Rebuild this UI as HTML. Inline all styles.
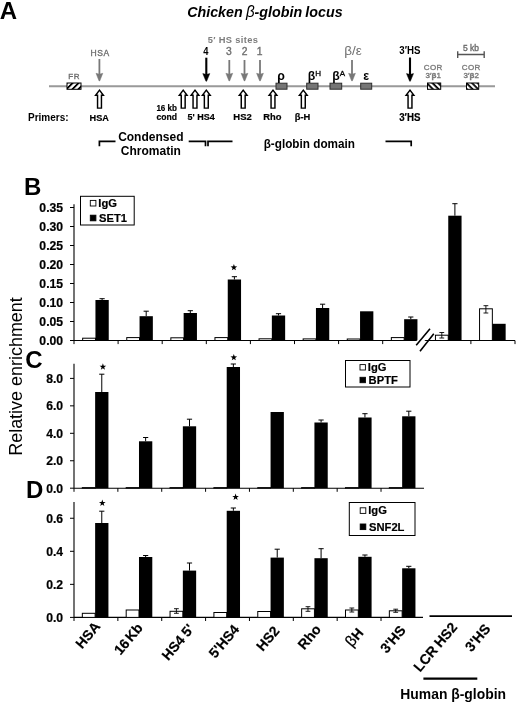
<!DOCTYPE html>
<html><head><meta charset="utf-8"><title>Figure</title>
<style>
html,body{margin:0;padding:0;background:#fff;}
body{width:520px;height:706px;overflow:hidden;font-family:"Liberation Sans", sans-serif;}
svg{display:block;font-family:"Liberation Sans", sans-serif;}
svg text{font-family:"Liberation Sans", sans-serif;}
</style></head><body>
<svg width="520" height="706" viewBox="0 0 520 706">
<defs><filter id="soft" x="0" y="0" width="520" height="706" filterUnits="userSpaceOnUse"><feGaussianBlur stdDeviation="0.35"/></filter></defs>
<rect width="520" height="706" fill="#fff"/>
<g filter="url(#soft)">
<rect width="520" height="706" fill="#fff"/>
<text x="-0.3" y="19.3" font-size="24" font-weight="bold" fill="#000" text-anchor="start"  >A</text>
<text x="187.2" y="16.5" font-size="15" font-weight="bold" fill="#000" text-anchor="start" font-style="italic" textLength="155.4" lengthAdjust="spacingAndGlyphs" word-spacing="-0.8">Chicken <tspan font-weight="normal" font-size="16">β</tspan>-globin locus</text>
<line x1="49" y1="86.3" x2="495" y2="86.3" stroke="#999" stroke-width="2"/>
<defs>
<pattern id="hatchF" width="4.2" height="4.2" patternUnits="userSpaceOnUse" patternTransform="rotate(-45)"><rect width="4.2" height="4.2" fill="#fff"/><rect width="4.2" height="1.8" fill="#000"/></pattern>
<pattern id="hatchB" width="4" height="4" patternUnits="userSpaceOnUse" patternTransform="rotate(45)"><rect width="4" height="4" fill="#fff"/><rect width="4" height="1.8" fill="#000"/></pattern>
</defs>
<rect x="67" y="83" width="14" height="6.3" fill="url(#hatchF)" stroke="#000" stroke-width="1"/>
<rect x="427.5" y="83" width="13.199999999999989" height="6.3" fill="url(#hatchB)" stroke="#000" stroke-width="1"/>
<rect x="466.5" y="83" width="12.199999999999989" height="6.3" fill="url(#hatchB)" stroke="#000" stroke-width="1"/>
<rect x="276" y="83.2" width="11" height="6" fill="#757575" stroke="#2e2e2e" stroke-width="1"/>
<rect x="306.7" y="83.2" width="11.300000000000011" height="6" fill="#757575" stroke="#2e2e2e" stroke-width="1"/>
<rect x="330" y="83.2" width="11.699999999999989" height="6" fill="#757575" stroke="#2e2e2e" stroke-width="1"/>
<rect x="360.7" y="83.2" width="11.0" height="6" fill="#757575" stroke="#2e2e2e" stroke-width="1"/>
<line x1="99.4" y1="59" x2="99.4" y2="75.3" stroke="#787878" stroke-width="1.8"/>
<path d="M96.0 73.3 L99.4 74.2 L102.80000000000001 73.3 L99.75 80.9 L99.05000000000001 80.9 Z" fill="#787878" stroke="#787878" stroke-width="0.5" stroke-linejoin="round"/>
<line x1="206.3" y1="57.7" x2="206.3" y2="75.6" stroke="#000" stroke-width="2.1"/>
<path d="M202.8 73.6 L206.3 74.5 L209.8 73.6 L206.65 81.2 L205.95000000000002 81.2 Z" fill="#000" stroke="#000" stroke-width="0.5" stroke-linejoin="round"/>
<line x1="229.3" y1="60" x2="229.3" y2="75.3" stroke="#787878" stroke-width="1.8"/>
<path d="M225.9 73.3 L229.3 74.2 L232.70000000000002 73.3 L229.65 80.9 L228.95000000000002 80.9 Z" fill="#787878" stroke="#787878" stroke-width="0.5" stroke-linejoin="round"/>
<line x1="244.5" y1="60" x2="244.5" y2="75.3" stroke="#787878" stroke-width="1.8"/>
<path d="M241.1 73.3 L244.5 74.2 L247.9 73.3 L244.85 80.9 L244.15 80.9 Z" fill="#787878" stroke="#787878" stroke-width="0.5" stroke-linejoin="round"/>
<line x1="260" y1="60" x2="260" y2="75.3" stroke="#787878" stroke-width="1.8"/>
<path d="M256.6 73.3 L260 74.2 L263.4 73.3 L260.35 80.9 L259.65 80.9 Z" fill="#787878" stroke="#787878" stroke-width="0.5" stroke-linejoin="round"/>
<line x1="352" y1="60" x2="352" y2="75.3" stroke="#787878" stroke-width="1.8"/>
<path d="M348.6 73.3 L352 74.2 L355.4 73.3 L352.35 80.9 L351.65 80.9 Z" fill="#787878" stroke="#787878" stroke-width="0.5" stroke-linejoin="round"/>
<line x1="410" y1="57.5" x2="410" y2="75.6" stroke="#000" stroke-width="2.1"/>
<path d="M406.5 73.6 L410 74.5 L413.5 73.6 L410.35 81.2 L409.65 81.2 Z" fill="#000" stroke="#000" stroke-width="0.5" stroke-linejoin="round"/>
<path d="M99.5 90.1 L103.4 95.3 L101.45 95.3 L101.45 108.1 L97.55 108.1 L97.55 95.3 L95.6 95.3 Z" fill="#fff" stroke="#000" stroke-width="1.45" stroke-linejoin="miter"/>
<path d="M183.2 90.1 L187.1 95.3 L185.14999999999998 95.3 L185.14999999999998 108.1 L181.25 108.1 L181.25 95.3 L179.29999999999998 95.3 Z" fill="#fff" stroke="#000" stroke-width="1.45" stroke-linejoin="miter"/>
<path d="M195 90.1 L198.9 95.3 L196.95 95.3 L196.95 108.1 L193.05 108.1 L193.05 95.3 L191.1 95.3 Z" fill="#fff" stroke="#000" stroke-width="1.45" stroke-linejoin="miter"/>
<path d="M206.3 90.1 L210.20000000000002 95.3 L208.25 95.3 L208.25 108.1 L204.35000000000002 108.1 L204.35000000000002 95.3 L202.4 95.3 Z" fill="#fff" stroke="#000" stroke-width="1.45" stroke-linejoin="miter"/>
<path d="M243.2 90.1 L247.1 95.3 L245.14999999999998 95.3 L245.14999999999998 108.1 L241.25 108.1 L241.25 95.3 L239.29999999999998 95.3 Z" fill="#fff" stroke="#000" stroke-width="1.45" stroke-linejoin="miter"/>
<path d="M273 90.1 L276.9 95.3 L274.95 95.3 L274.95 108.1 L271.05 108.1 L271.05 95.3 L269.1 95.3 Z" fill="#fff" stroke="#000" stroke-width="1.45" stroke-linejoin="miter"/>
<path d="M303.3 90.1 L307.2 95.3 L305.25 95.3 L305.25 108.1 L301.35 108.1 L301.35 95.3 L299.40000000000003 95.3 Z" fill="#fff" stroke="#000" stroke-width="1.45" stroke-linejoin="miter"/>
<path d="M410 90.1 L413.9 95.3 L411.95 95.3 L411.95 108.1 L408.05 108.1 L408.05 95.3 L406.1 95.3 Z" fill="#fff" stroke="#000" stroke-width="1.45" stroke-linejoin="miter"/>
<text x="90.5" y="55.6" font-size="8.5" font-weight="normal" fill="#6e6e6e" text-anchor="start"  letter-spacing="0.6" stroke="#6e6e6e" stroke-width="0.35">HSA</text>
<text x="68.3" y="79.3" font-size="8" font-weight="normal" fill="#6e6e6e" text-anchor="start"  letter-spacing="0.5" stroke="#6e6e6e" stroke-width="0.35">FR</text>
<text x="207.8" y="42.5" font-size="9.3" font-weight="bold" fill="#7c7c7c" text-anchor="start"  textLength="50" lengthAdjust="spacing">5′ HS sites</text>
<text x="205.8" y="54.6" font-size="10.5" font-weight="bold" fill="#000" text-anchor="middle"  textLength="5.2" lengthAdjust="spacingAndGlyphs">4</text>
<text x="228.9" y="54.6" font-size="10.3" font-weight="normal" fill="#6e6e6e" text-anchor="middle"   stroke="#6e6e6e" stroke-width="0.35">3</text>
<text x="244.6" y="54.6" font-size="10.3" font-weight="normal" fill="#6e6e6e" text-anchor="middle"   stroke="#6e6e6e" stroke-width="0.35">2</text>
<text x="259.7" y="54.6" font-size="10.3" font-weight="normal" fill="#6e6e6e" text-anchor="middle"   stroke="#6e6e6e" stroke-width="0.35">1</text>
<text x="344.2" y="55.4" font-size="12" font-weight="normal" fill="#707070" text-anchor="start"  textLength="17.6" lengthAdjust="spacingAndGlyphs">β/ε</text>
<text x="399.3" y="54.3" font-size="10.5" font-weight="bold" fill="#000" text-anchor="start"  textLength="21.2" lengthAdjust="spacingAndGlyphs">3′HS</text>
<text x="433.2" y="70.2" font-size="8" font-weight="normal" fill="#7a7a7a" text-anchor="middle"  letter-spacing="0.3" stroke="#7a7a7a" stroke-width="0.35">COR</text>
<text x="433.2" y="78.4" font-size="8" font-weight="normal" fill="#7a7a7a" text-anchor="middle"   stroke="#7a7a7a" stroke-width="0.35">3′<tspan font-weight="bold">β</tspan>1</text>
<text x="471.2" y="70.2" font-size="8" font-weight="normal" fill="#7a7a7a" text-anchor="middle"  letter-spacing="0.3" stroke="#7a7a7a" stroke-width="0.35">COR</text>
<text x="471.2" y="78.4" font-size="8" font-weight="normal" fill="#7a7a7a" text-anchor="middle"   stroke="#7a7a7a" stroke-width="0.35">3′<tspan font-weight="bold">β</tspan>2</text>
<text x="471" y="51.3" font-size="8.5" font-weight="normal" fill="#6a6a6a" text-anchor="middle"   stroke="#6a6a6a" stroke-width="0.35">5 kb</text>
<path d="M457.7 51.3 V58 M484.2 51.3 V58 M457.7 54.5 H484.2" stroke="#555" stroke-width="1.4" fill="none"/>
<text x="277.2" y="79.6" font-size="12.3" font-weight="bold" fill="#000" text-anchor="start"  >ρ</text>
<text x="307.7" y="80.4" font-size="12.3" font-weight="bold" fill="#000" text-anchor="start"  >β<tspan font-size="8" dy="-4.3" font-weight="normal" stroke="#000" stroke-width="0.3">H</tspan></text>
<text x="332.2" y="80.4" font-size="12.3" font-weight="bold" fill="#000" text-anchor="start"  >β<tspan font-size="8" dy="-4.3" font-weight="normal" stroke="#000" stroke-width="0.3">A</tspan></text>
<text x="363.3" y="80" font-size="12.3" font-weight="bold" fill="#000" text-anchor="start"  >ε</text>
<text x="28" y="120.6" font-size="10" font-weight="bold" fill="#000" text-anchor="start"  >Primers:</text>
<text x="89.6" y="120.6" font-size="9.8" font-weight="bold" fill="#000" text-anchor="start"  textLength="19.3" lengthAdjust="spacingAndGlyphs" stroke="#000" stroke-width="0.2">HSA</text>
<text x="156.4" y="111.4" font-size="9.2" font-weight="bold" fill="#000" text-anchor="start"  textLength="20.6" lengthAdjust="spacingAndGlyphs" stroke="#000" stroke-width="0.2">16 kb</text>
<text x="156.4" y="120.1" font-size="9.2" font-weight="bold" fill="#000" text-anchor="start"  textLength="20.6" lengthAdjust="spacingAndGlyphs" stroke="#000" stroke-width="0.2">cond</text>
<text x="187.6" y="120.4" font-size="9.8" font-weight="bold" fill="#000" text-anchor="start"  textLength="27.2" lengthAdjust="spacingAndGlyphs" stroke="#000" stroke-width="0.2">5' HS4</text>
<text x="233.3" y="120.4" font-size="9.8" font-weight="bold" fill="#000" text-anchor="start"  textLength="18.4" lengthAdjust="spacingAndGlyphs" stroke="#000" stroke-width="0.2">HS2</text>
<text x="263.3" y="120.4" font-size="9.8" font-weight="bold" fill="#000" text-anchor="start"  textLength="18.2" lengthAdjust="spacingAndGlyphs" stroke="#000" stroke-width="0.2">Rho</text>
<text x="294.7" y="120.4" font-size="9.8" font-weight="bold" fill="#000" text-anchor="start"  textLength="15.6" lengthAdjust="spacingAndGlyphs" stroke="#000" stroke-width="0.2">β-H</text>
<text x="399.2" y="120.6" font-size="10" font-weight="bold" fill="#000" text-anchor="start"  textLength="21.2" lengthAdjust="spacingAndGlyphs" stroke="#000" stroke-width="0.2">3′HS</text>
<path d="M99.4 146.2 V141.3 H115.5" stroke="#000" stroke-width="1.7" fill="none"/>
<path d="M188.7 141.3 H205.5 V146.2 M208 146.2 V141.3 H232.5" stroke="#000" stroke-width="1.7" fill="none"/>
<path d="M385.5 141.3 H411.2 V146.2" stroke="#000" stroke-width="1.7" fill="none"/>
<text x="150.8" y="140.6" font-size="12" font-weight="bold" fill="#000" text-anchor="middle"  >Condensed</text>
<text x="150.8" y="155" font-size="12" font-weight="bold" fill="#000" text-anchor="middle"  >Chromatin</text>
<text x="263.7" y="147.6" font-size="12" font-weight="bold" fill="#000" text-anchor="start"  textLength="91.3" lengthAdjust="spacingAndGlyphs">β-globin domain</text>
<path d="M74.0 204.3 V340.5 M73.7 340.5 H515" stroke="#000" stroke-width="1.1" fill="none"/>
<line x1="70.0" y1="340.5" x2="74.0" y2="340.5" stroke="#000" stroke-width="1"/>
<text x="63.1" y="344.85" font-size="12.2" font-weight="bold" fill="#000" text-anchor="end"  stroke="#000" stroke-width="0.2">0.00</text>
<line x1="70.0" y1="321.5" x2="74.0" y2="321.5" stroke="#000" stroke-width="1"/>
<text x="63.1" y="325.85" font-size="12.2" font-weight="bold" fill="#000" text-anchor="end"  stroke="#000" stroke-width="0.2">0.05</text>
<line x1="70.0" y1="302.5" x2="74.0" y2="302.5" stroke="#000" stroke-width="1"/>
<text x="63.1" y="306.85" font-size="12.2" font-weight="bold" fill="#000" text-anchor="end"  stroke="#000" stroke-width="0.2">0.10</text>
<line x1="70.0" y1="283.5" x2="74.0" y2="283.5" stroke="#000" stroke-width="1"/>
<text x="63.1" y="287.85" font-size="12.2" font-weight="bold" fill="#000" text-anchor="end"  stroke="#000" stroke-width="0.2">0.15</text>
<line x1="70.0" y1="264.5" x2="74.0" y2="264.5" stroke="#000" stroke-width="1"/>
<text x="63.1" y="268.85" font-size="12.2" font-weight="bold" fill="#000" text-anchor="end"  stroke="#000" stroke-width="0.2">0.20</text>
<line x1="70.0" y1="245.5" x2="74.0" y2="245.5" stroke="#000" stroke-width="1"/>
<text x="63.1" y="249.85" font-size="12.2" font-weight="bold" fill="#000" text-anchor="end"  stroke="#000" stroke-width="0.2">0.25</text>
<line x1="70.0" y1="226.5" x2="74.0" y2="226.5" stroke="#000" stroke-width="1"/>
<text x="63.1" y="230.85" font-size="12.2" font-weight="bold" fill="#000" text-anchor="end"  stroke="#000" stroke-width="0.2">0.30</text>
<line x1="70.0" y1="207.5" x2="74.0" y2="207.5" stroke="#000" stroke-width="1"/>
<text x="63.1" y="211.85" font-size="12.2" font-weight="bold" fill="#000" text-anchor="end"  stroke="#000" stroke-width="0.2">0.35</text>
<line x1="74.0" y1="340.5" x2="74.0" y2="344.1" stroke="#000" stroke-width="1"/>
<line x1="118.1" y1="340.5" x2="118.1" y2="344.1" stroke="#000" stroke-width="1"/>
<line x1="162.2" y1="340.5" x2="162.2" y2="344.1" stroke="#000" stroke-width="1"/>
<line x1="206.3" y1="340.5" x2="206.3" y2="344.1" stroke="#000" stroke-width="1"/>
<line x1="250.4" y1="340.5" x2="250.4" y2="344.1" stroke="#000" stroke-width="1"/>
<line x1="294.5" y1="340.5" x2="294.5" y2="344.1" stroke="#000" stroke-width="1"/>
<line x1="338.6" y1="340.5" x2="338.6" y2="344.1" stroke="#000" stroke-width="1"/>
<line x1="382.7" y1="340.5" x2="382.7" y2="344.1" stroke="#000" stroke-width="1"/>
<line x1="470.90000000000003" y1="340.5" x2="470.90000000000003" y2="344.1" stroke="#000" stroke-width="1"/>
<line x1="515.0" y1="340.5" x2="515.0" y2="344.1" stroke="#000" stroke-width="1"/>
<rect x="82.65" y="338.2" width="12.8" height="2.3000000000000114" fill="#fff" stroke="#000" stroke-width="1"/>
<rect x="95.45" y="300" width="13.3" height="40.5" fill="#000"/>
<path d="M102.10000000000001 298.7 V300 M99.50000000000001 298.7 H104.7" stroke="#000" stroke-width="1.0" fill="none"/>
<rect x="126.75000000000001" y="337.6" width="12.8" height="2.8999999999999773" fill="#fff" stroke="#000" stroke-width="1"/>
<rect x="139.55" y="316.2" width="13.3" height="24.30000000000001" fill="#000"/>
<path d="M146.20000000000002 311.2 V316.2 M143.60000000000002 311.2 H148.8" stroke="#000" stroke-width="1.0" fill="none"/>
<rect x="170.85" y="337.8" width="12.8" height="2.6999999999999886" fill="#fff" stroke="#000" stroke-width="1"/>
<rect x="183.65" y="313" width="13.3" height="27.5" fill="#000"/>
<path d="M190.3 310.7 V313 M187.70000000000002 310.7 H192.9" stroke="#000" stroke-width="1.0" fill="none"/>
<rect x="214.95" y="337.6" width="12.8" height="2.8999999999999773" fill="#fff" stroke="#000" stroke-width="1"/>
<rect x="227.75" y="279.5" width="13.3" height="61.0" fill="#000"/>
<path d="M234.4 276.7 V279.5 M231.8 276.7 H237.0" stroke="#000" stroke-width="1.0" fill="none"/>
<rect x="259.05" y="338.8" width="12.8" height="1.6999999999999886" fill="#fff" stroke="#000" stroke-width="1"/>
<rect x="271.85" y="315.5" width="13.3" height="25.0" fill="#000"/>
<path d="M278.5 313.7 V315.5 M275.9 313.7 H281.1" stroke="#000" stroke-width="1.0" fill="none"/>
<rect x="303.15" y="338.9" width="12.8" height="1.6000000000000227" fill="#fff" stroke="#000" stroke-width="1"/>
<rect x="315.95" y="308" width="13.3" height="32.5" fill="#000"/>
<path d="M322.59999999999997 304.2 V308 M319.99999999999994 304.2 H325.2" stroke="#000" stroke-width="1.0" fill="none"/>
<rect x="347.25" y="339" width="12.8" height="1.5" fill="#fff" stroke="#000" stroke-width="1"/>
<rect x="360.05" y="311.3" width="13.3" height="29.19999999999999" fill="#000"/>
<rect x="391.34999999999997" y="337.6" width="12.8" height="2.8999999999999773" fill="#fff" stroke="#000" stroke-width="1"/>
<rect x="404.15" y="319.2" width="13.3" height="21.30000000000001" fill="#000"/>
<path d="M410.79999999999995 317 V319.2 M408.19999999999993 317 H413.4" stroke="#000" stroke-width="1.0" fill="none"/>
<rect x="435.45" y="335.2" width="12.8" height="5.300000000000011" fill="#fff" stroke="#000" stroke-width="1"/>
<rect x="448.25" y="215.7" width="13.3" height="124.80000000000001" fill="#000"/>
<path d="M441.8 332.5 V338 M439.40000000000003 332.5 H444.2 M439.40000000000003 338 H444.2" stroke="#000" stroke-width="0.9" fill="none"/>
<path d="M454.9 203.7 V215.7 M452.29999999999995 203.7 H457.5" stroke="#000" stroke-width="1.0" fill="none"/>
<rect x="479.54999999999995" y="308.8" width="12.8" height="31.69999999999999" fill="#fff" stroke="#000" stroke-width="1"/>
<rect x="492.34999999999997" y="323.8" width="13.3" height="16.69999999999999" fill="#000"/>
<path d="M485.9 305.7 V313 M483.5 305.7 H488.29999999999995 M483.5 313 H488.29999999999995" stroke="#000" stroke-width="0.9" fill="none"/>
<path d="M418 343 L432 331" stroke="#fff" stroke-width="5"/>
<path d="M416.2 345.2 L430 328.7 M420 351.3 L433.8 333.7" stroke="#000" stroke-width="1.6" fill="none"/>
<polygon points="233.90,264.00 234.72,266.37 237.23,266.42 235.23,267.93 235.96,270.33 233.90,268.90 231.84,270.33 232.57,267.93 230.57,266.42 233.08,266.37" fill="#000"/>
<rect x="80.5" y="196.3" width="53.69999999999999" height="28.69999999999999" fill="#fff" stroke="#000" stroke-width="1"/>
<rect x="90.3" y="200.4" width="5.6" height="5.6" fill="#fff" stroke="#000" stroke-width="0.9"/>
<rect x="90.3" y="215.20000000000002" width="5.6" height="5.6" fill="#000" stroke="#000" stroke-width="0.9"/>
<text x="98.3" y="207" font-size="11.2" font-weight="bold" fill="#000" text-anchor="start"  stroke="#000" stroke-width="0.2">IgG</text>
<text x="99.1" y="221.8" font-size="11.2" font-weight="bold" fill="#000" text-anchor="start"  stroke="#000" stroke-width="0.2">SET1</text>
<path d="M74.0 363.7 V488.2 M73.7 488.2 H424" stroke="#000" stroke-width="1.1" fill="none"/>
<line x1="70.0" y1="488.2" x2="74.0" y2="488.2" stroke="#000" stroke-width="1"/>
<text x="63.1" y="492.55" font-size="12.2" font-weight="bold" fill="#000" text-anchor="end"  stroke="#000" stroke-width="0.2">0.0</text>
<line x1="70.0" y1="460.75" x2="74.0" y2="460.75" stroke="#000" stroke-width="1"/>
<text x="63.1" y="465.1" font-size="12.2" font-weight="bold" fill="#000" text-anchor="end"  stroke="#000" stroke-width="0.2">2.0</text>
<line x1="70.0" y1="433.3" x2="74.0" y2="433.3" stroke="#000" stroke-width="1"/>
<text x="63.1" y="437.65000000000003" font-size="12.2" font-weight="bold" fill="#000" text-anchor="end"  stroke="#000" stroke-width="0.2">4.0</text>
<line x1="70.0" y1="405.85" x2="74.0" y2="405.85" stroke="#000" stroke-width="1"/>
<text x="63.1" y="410.20000000000005" font-size="12.2" font-weight="bold" fill="#000" text-anchor="end"  stroke="#000" stroke-width="0.2">6.0</text>
<line x1="70.0" y1="378.4" x2="74.0" y2="378.4" stroke="#000" stroke-width="1"/>
<text x="63.1" y="382.75" font-size="12.2" font-weight="bold" fill="#000" text-anchor="end"  stroke="#000" stroke-width="0.2">8.0</text>
<line x1="74.0" y1="488.2" x2="74.0" y2="491.8" stroke="#000" stroke-width="1"/>
<line x1="117.86" y1="488.2" x2="117.86" y2="491.8" stroke="#000" stroke-width="1"/>
<line x1="161.72" y1="488.2" x2="161.72" y2="491.8" stroke="#000" stroke-width="1"/>
<line x1="205.57999999999998" y1="488.2" x2="205.57999999999998" y2="491.8" stroke="#000" stroke-width="1"/>
<line x1="249.44" y1="488.2" x2="249.44" y2="491.8" stroke="#000" stroke-width="1"/>
<line x1="293.3" y1="488.2" x2="293.3" y2="491.8" stroke="#000" stroke-width="1"/>
<line x1="337.15999999999997" y1="488.2" x2="337.15999999999997" y2="491.8" stroke="#000" stroke-width="1"/>
<line x1="381.02" y1="488.2" x2="381.02" y2="491.8" stroke="#000" stroke-width="1"/>
<rect x="82.33000000000001" y="487.6" width="12.8" height="0.5999999999999659" fill="#fff" stroke="#000" stroke-width="1"/>
<rect x="95.13000000000001" y="392" width="13.3" height="96.19999999999999" fill="#000"/>
<path d="M101.78000000000002 374.2 V392 M99.18000000000002 374.2 H104.38000000000001" stroke="#000" stroke-width="1.0" fill="none"/>
<rect x="126.18999999999998" y="487.6" width="12.8" height="0.5999999999999659" fill="#fff" stroke="#000" stroke-width="1"/>
<rect x="138.98999999999998" y="441.3" width="13.3" height="46.89999999999998" fill="#000"/>
<path d="M145.64 437.5 V441.3 M143.04 437.5 H148.23999999999998" stroke="#000" stroke-width="1.0" fill="none"/>
<rect x="170.04999999999998" y="487.6" width="12.8" height="0.5999999999999659" fill="#fff" stroke="#000" stroke-width="1"/>
<rect x="182.85" y="426.3" width="13.3" height="61.89999999999998" fill="#000"/>
<path d="M189.5 419.2 V426.3 M186.9 419.2 H192.1" stroke="#000" stroke-width="1.0" fill="none"/>
<rect x="213.90999999999997" y="487.6" width="12.8" height="0.5999999999999659" fill="#fff" stroke="#000" stroke-width="1"/>
<rect x="226.70999999999998" y="367" width="13.3" height="121.19999999999999" fill="#000"/>
<path d="M233.35999999999999 364 V367 M230.76 364 H235.95999999999998" stroke="#000" stroke-width="1.0" fill="none"/>
<rect x="257.77" y="487.6" width="12.8" height="0.5999999999999659" fill="#fff" stroke="#000" stroke-width="1"/>
<rect x="270.57" y="412" width="13.3" height="76.19999999999999" fill="#000"/>
<rect x="301.63" y="487.6" width="12.8" height="0.5999999999999659" fill="#fff" stroke="#000" stroke-width="1"/>
<rect x="314.43" y="422.5" width="13.3" height="65.69999999999999" fill="#000"/>
<path d="M321.08 420 V422.5 M318.47999999999996 420 H323.68" stroke="#000" stroke-width="1.0" fill="none"/>
<rect x="345.48999999999995" y="487.6" width="12.8" height="0.5999999999999659" fill="#fff" stroke="#000" stroke-width="1"/>
<rect x="358.28999999999996" y="417.5" width="13.3" height="70.69999999999999" fill="#000"/>
<path d="M364.93999999999994 413.7 V417.5 M362.3399999999999 413.7 H367.53999999999996" stroke="#000" stroke-width="1.0" fill="none"/>
<rect x="389.34999999999997" y="487.6" width="12.8" height="0.5999999999999659" fill="#fff" stroke="#000" stroke-width="1"/>
<rect x="402.15" y="416.3" width="13.3" height="71.89999999999998" fill="#000"/>
<path d="M408.79999999999995 411.2 V416.3 M406.19999999999993 411.2 H411.4" stroke="#000" stroke-width="1.0" fill="none"/>
<polygon points="102.90,363.30 103.72,365.67 106.23,365.72 104.23,367.23 104.96,369.63 102.90,368.20 100.84,369.63 101.57,367.23 99.57,365.72 102.08,365.67" fill="#000"/>
<polygon points="233.80,354.00 234.62,356.37 237.13,356.42 235.13,357.93 235.86,360.33 233.80,358.90 231.74,360.33 232.47,357.93 230.47,356.42 232.98,356.37" fill="#000"/>
<rect x="345.5" y="360.5" width="64.5" height="26.5" fill="#fff" stroke="#000" stroke-width="1"/>
<rect x="360" y="364.59999999999997" width="5.4" height="5.4" fill="#fff" stroke="#000" stroke-width="0.9"/>
<rect x="360" y="377.29999999999995" width="5.4" height="5.4" fill="#000" stroke="#000" stroke-width="0.9"/>
<text x="367.79999999999995" y="371.2" font-size="11.2" font-weight="bold" fill="#000" text-anchor="start"  stroke="#000" stroke-width="0.2">IgG</text>
<text x="368.59999999999997" y="383.9" font-size="11.2" font-weight="bold" fill="#000" text-anchor="start"  stroke="#000" stroke-width="0.2">BPTF</text>
<path d="M74.0 502 V617.4 M73.7 617.4 H423" stroke="#000" stroke-width="1.1" fill="none"/>
<line x1="70.0" y1="617.4" x2="74.0" y2="617.4" stroke="#000" stroke-width="1"/>
<text x="63.1" y="621.75" font-size="12.2" font-weight="bold" fill="#000" text-anchor="end"  stroke="#000" stroke-width="0.2">0.0</text>
<line x1="70.0" y1="584.35" x2="74.0" y2="584.35" stroke="#000" stroke-width="1"/>
<text x="63.1" y="588.7" font-size="12.2" font-weight="bold" fill="#000" text-anchor="end"  stroke="#000" stroke-width="0.2">0.2</text>
<line x1="70.0" y1="551.3" x2="74.0" y2="551.3" stroke="#000" stroke-width="1"/>
<text x="63.1" y="555.65" font-size="12.2" font-weight="bold" fill="#000" text-anchor="end"  stroke="#000" stroke-width="0.2">0.4</text>
<line x1="70.0" y1="518.25" x2="74.0" y2="518.25" stroke="#000" stroke-width="1"/>
<text x="63.1" y="522.6" font-size="12.2" font-weight="bold" fill="#000" text-anchor="end"  stroke="#000" stroke-width="0.2">0.6</text>
<line x1="74.0" y1="617.4" x2="74.0" y2="621.0" stroke="#000" stroke-width="1"/>
<line x1="117.86" y1="617.4" x2="117.86" y2="621.0" stroke="#000" stroke-width="1"/>
<line x1="161.72" y1="617.4" x2="161.72" y2="621.0" stroke="#000" stroke-width="1"/>
<line x1="205.57999999999998" y1="617.4" x2="205.57999999999998" y2="621.0" stroke="#000" stroke-width="1"/>
<line x1="249.44" y1="617.4" x2="249.44" y2="621.0" stroke="#000" stroke-width="1"/>
<line x1="293.3" y1="617.4" x2="293.3" y2="621.0" stroke="#000" stroke-width="1"/>
<line x1="337.15999999999997" y1="617.4" x2="337.15999999999997" y2="621.0" stroke="#000" stroke-width="1"/>
<line x1="381.02" y1="617.4" x2="381.02" y2="621.0" stroke="#000" stroke-width="1"/>
<rect x="82.33000000000001" y="613.3" width="12.8" height="4.100000000000023" fill="#fff" stroke="#000" stroke-width="1"/>
<rect x="95.13000000000001" y="523" width="13.3" height="94.39999999999998" fill="#000"/>
<path d="M101.78000000000002 511.2 V523 M99.18000000000002 511.2 H104.38000000000001" stroke="#000" stroke-width="1.0" fill="none"/>
<rect x="126.18999999999998" y="610" width="12.8" height="7.399999999999977" fill="#fff" stroke="#000" stroke-width="1"/>
<rect x="138.98999999999998" y="557" width="13.3" height="60.39999999999998" fill="#000"/>
<path d="M145.64 555.5 V557 M143.04 555.5 H148.23999999999998" stroke="#000" stroke-width="1.0" fill="none"/>
<rect x="170.04999999999998" y="611.3" width="12.8" height="6.100000000000023" fill="#fff" stroke="#000" stroke-width="1"/>
<rect x="182.85" y="570.6" width="13.3" height="46.799999999999955" fill="#000"/>
<path d="M176.39999999999998 608.7 V613.3 M173.99999999999997 608.7 H178.79999999999998 M173.99999999999997 613.3 H178.79999999999998" stroke="#000" stroke-width="0.9" fill="none"/>
<path d="M189.5 563 V570.6 M186.9 563 H192.1" stroke="#000" stroke-width="1.0" fill="none"/>
<rect x="213.90999999999997" y="612.5" width="12.8" height="4.899999999999977" fill="#fff" stroke="#000" stroke-width="1"/>
<rect x="226.70999999999998" y="510.8" width="13.3" height="106.59999999999997" fill="#000"/>
<path d="M233.35999999999999 508 V510.8 M230.76 508 H235.95999999999998" stroke="#000" stroke-width="1.0" fill="none"/>
<rect x="257.77" y="611.5" width="12.8" height="5.899999999999977" fill="#fff" stroke="#000" stroke-width="1"/>
<rect x="270.57" y="557.6" width="13.3" height="59.799999999999955" fill="#000"/>
<path d="M277.21999999999997 549.2 V557.6 M274.61999999999995 549.2 H279.82" stroke="#000" stroke-width="1.0" fill="none"/>
<rect x="301.63" y="608.8" width="12.8" height="8.600000000000023" fill="#fff" stroke="#000" stroke-width="1"/>
<rect x="314.43" y="558.2" width="13.3" height="59.19999999999993" fill="#000"/>
<path d="M307.98 606.7 V611.3 M305.58000000000004 606.7 H310.38 M305.58000000000004 611.3 H310.38" stroke="#000" stroke-width="0.9" fill="none"/>
<path d="M321.08 548.7 V558.2 M318.47999999999996 548.7 H323.68" stroke="#000" stroke-width="1.0" fill="none"/>
<rect x="345.48999999999995" y="610" width="12.8" height="7.399999999999977" fill="#fff" stroke="#000" stroke-width="1"/>
<rect x="358.28999999999996" y="556.8" width="13.3" height="60.60000000000002" fill="#000"/>
<path d="M351.84 608 V612 M349.44 608 H354.23999999999995 M349.44 612 H354.23999999999995" stroke="#000" stroke-width="0.9" fill="none"/>
<path d="M364.93999999999994 555 V556.8 M362.3399999999999 555 H367.53999999999996" stroke="#000" stroke-width="1.0" fill="none"/>
<rect x="389.34999999999997" y="610.8" width="12.8" height="6.600000000000023" fill="#fff" stroke="#000" stroke-width="1"/>
<rect x="402.15" y="568.3" width="13.3" height="49.10000000000002" fill="#000"/>
<path d="M395.7 609.2 V612.3 M393.3 609.2 H398.09999999999997 M393.3 612.3 H398.09999999999997" stroke="#000" stroke-width="0.9" fill="none"/>
<path d="M408.79999999999995 566.3 V568.3 M406.19999999999993 566.3 H411.4" stroke="#000" stroke-width="1.0" fill="none"/>
<polygon points="102.30,499.60 103.12,501.97 105.63,502.02 103.63,503.53 104.36,505.93 102.30,504.50 100.24,505.93 100.97,503.53 98.97,502.02 101.48,501.97" fill="#000"/>
<polygon points="235.60,493.60 236.42,495.97 238.93,496.02 236.93,497.53 237.66,499.93 235.60,498.50 233.54,499.93 234.27,497.53 232.27,496.02 234.78,495.97" fill="#000"/>
<rect x="349.3" y="502.5" width="65.69999999999999" height="33.0" fill="#fff" stroke="#000" stroke-width="1"/>
<rect x="360.2" y="507.79999999999995" width="5.6" height="5.6" fill="#fff" stroke="#000" stroke-width="0.9"/>
<rect x="360.2" y="524.0" width="5.6" height="5.6" fill="#000" stroke="#000" stroke-width="0.9"/>
<text x="368.2" y="514.4" font-size="11.2" font-weight="bold" fill="#000" text-anchor="start"  stroke="#000" stroke-width="0.2">IgG</text>
<text x="369.0" y="530.6" font-size="11.2" font-weight="bold" fill="#000" text-anchor="start"  stroke="#000" stroke-width="0.2">SNF2L</text>
<text x="24" y="195.2" font-size="24" font-weight="bold" fill="#000" text-anchor="start"  >B</text>
<text x="25.2" y="368.2" font-size="24" font-weight="bold" fill="#000" text-anchor="start"  >C</text>
<text x="26" y="498.4" font-size="24" font-weight="bold" fill="#000" text-anchor="start"  >D</text>
<text transform="translate(21.6,455.8) rotate(-90)" font-size="18.6" fill="#000" textLength="158.6" lengthAdjust="spacingAndGlyphs">Relative enrichment</text>
<text transform="translate(101.1,626.8) rotate(-50)" font-size="14" font-weight="bold" text-anchor="end" word-spacing="-2" stroke="#000" stroke-width="0.2">HSA</text>
<text transform="translate(143.6,628.2) rotate(-50)" font-size="14" font-weight="bold" text-anchor="end" word-spacing="-2" stroke="#000" stroke-width="0.2">16 Kb</text>
<text transform="translate(195,629.3) rotate(-50)" font-size="14" font-weight="bold" text-anchor="end" word-spacing="-0.5" stroke="#000" stroke-width="0.2">HS4 5'</text>
<text transform="translate(239.9,629.7) rotate(-50)" font-size="14" font-weight="bold" text-anchor="end" word-spacing="-2" stroke="#000" stroke-width="0.2">5'HS4</text>
<text transform="translate(280.2,631.2) rotate(-50)" font-size="14" font-weight="bold" text-anchor="end" word-spacing="-2" stroke="#000" stroke-width="0.2">HS2</text>
<text transform="translate(321.8,629.6) rotate(-50)" font-size="14" font-weight="bold" text-anchor="end" word-spacing="-2" stroke="#000" stroke-width="0.2">Rho</text>
<text transform="translate(364.3,633.2) rotate(-50)" font-size="14" font-weight="bold" text-anchor="end" word-spacing="-2" stroke="#000" stroke-width="0.2"><tspan font-weight="normal" font-size="15.5">β</tspan>H</text>
<text transform="translate(406.5,630.6) rotate(-50)" font-size="14" font-weight="bold" text-anchor="end" word-spacing="-2" stroke="#000" stroke-width="0.2">3'HS</text>
<text transform="translate(457.9,627.5) rotate(-50)" font-size="14" font-weight="bold" text-anchor="end" word-spacing="-0.8" stroke="#000" stroke-width="0.2">LCR HS2</text>
<text transform="translate(491.2,629.1) rotate(-50)" font-size="14" font-weight="bold" text-anchor="end" word-spacing="-2" stroke="#000" stroke-width="0.2">3'HS</text>
<line x1="429.5" y1="616.2" x2="512" y2="616.2" stroke="#000" stroke-width="1.7"/>
<line x1="423.4" y1="678.6" x2="477.3" y2="678.6" stroke="#000" stroke-width="2.4"/>
<text x="400.3" y="698.5" font-size="14" font-weight="bold" fill="#000" text-anchor="start"  textLength="105.7" lengthAdjust="spacingAndGlyphs">Human β-globin</text>
</g>
</svg>
</body></html>
